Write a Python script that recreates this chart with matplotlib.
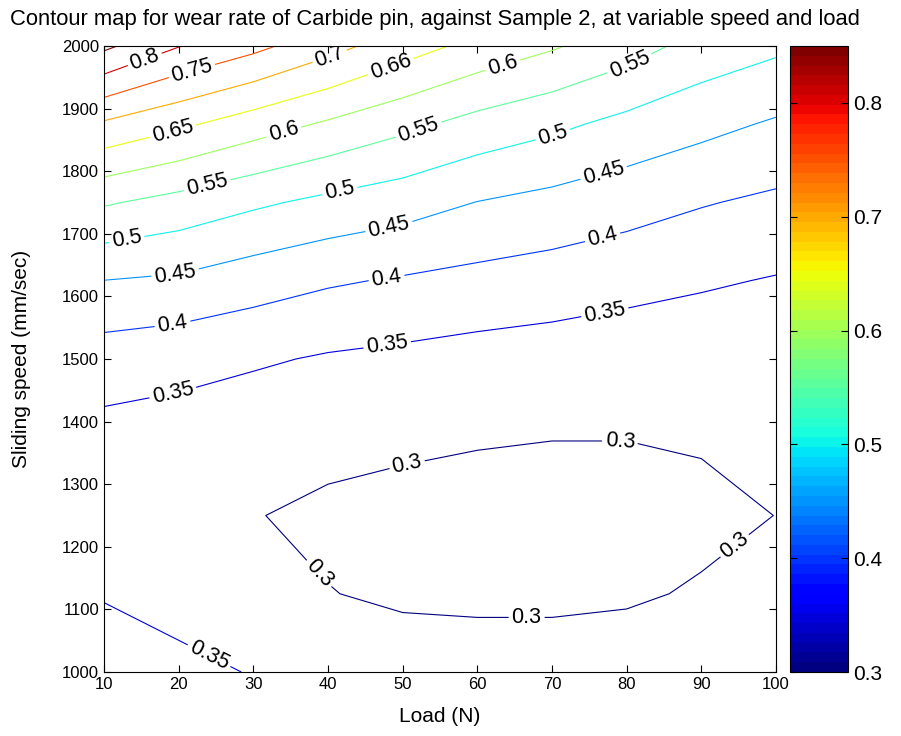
import numpy as np
import matplotlib
matplotlib.use('Agg')
import matplotlib.pyplot as plt
from matplotlib import colors, cm

plt.rcParams['font.family'] = ['Liberation Sans', 'DejaVu Sans']

# grid of the response surface (load in N, sliding speed in mm/sec)
loads = [10, 20, 30, 40, 50, 60, 70, 80, 90, 100]
speeds = [1000, 1125, 1250, 1375, 1500, 1625, 1750, 1875, 2000]

# wear rate, one row per speed, one column per load
wear = [
    [0.397, 0.365, 0.3471, 0.334, 0.325, 0.315, 0.315, 0.317, 0.318, 0.320],
    [0.344, 0.328, 0.3125, 0.3015, 0.2921, 0.2935, 0.2935, 0.2959, 0.3031, 0.306],
    [0.3258, 0.315, 0.302, 0.290, 0.291, 0.290, 0.290, 0.290, 0.292, 0.3003],
    [0.334, 0.329, 0.3145, 0.315, 0.305, 0.302, 0.3005, 0.3005, 0.303, 0.305],
    [0.3748, 0.3655, 0.3566, 0.345, 0.3384, 0.3311, 0.326, 0.320, 0.316, 0.3176],
    [0.4493, 0.442, 0.4223, 0.4058, 0.395, 0.3852, 0.3768, 0.3663, 0.3561, 0.3468],
    [0.5553, 0.5326, 0.5084, 0.4879, 0.4715, 0.4489, 0.4349, 0.4199, 0.4032, 0.3906],
    [0.6925, 0.6595, 0.6244, 0.5931, 0.5628, 0.5327, 0.5111, 0.4857, 0.4644, 0.4441],
    [0.8604, 0.802, 0.7638, 0.7178, 0.6731, 0.635, 0.6055, 0.5722, 0.5314, 0.5097],
]

levels = [0.30, 0.35, 0.40, 0.45, 0.50, 0.55, 0.60, 0.65, 0.70, 0.75, 0.80, 0.85]
cbar_ticks = [0.3, 0.4, 0.5, 0.6, 0.7, 0.8]

# where the inline labels sit (load, speed)
label_spots = [
    (15.9, 1964), (21.9, 1955), (40.3, 1981), (48.7, 1957), (19.2, 1863),
    (34.2, 1858), (63.7, 1958), (23.9, 1773), (52.3, 1861), (80.4, 1971),
    (13.1, 1685), (41.7, 1762), (70.0, 1861), (19.5, 1644), (48.2, 1709),
    (77.1, 1789), (19.2, 1554), (47.9, 1625), (76.8, 1693), (19.2, 1447),
    (48.0, 1516), (77.1, 1573), (50.6, 1331), (79.1, 1363), (38.4, 1153),
    (66.6, 1077), (94.9, 1195), (23.9, 1022),
]

X, Y = np.meshgrid(loads, speeds)
Z = np.array(wear)

fig = plt.figure(figsize=(9.01, 7.36), dpi=100)
ax = fig.add_axes([104 / 901, 64 / 736, 672 / 901, 626 / 736])
cax = fig.add_axes([790 / 901, 64 / 736, 58 / 901, 626 / 736])

jet = plt.get_cmap('jet', 64)
norm = colors.Normalize(vmin=0.3, vmax=0.85)

cs = ax.contour(X, Y, Z, levels=levels, cmap=jet, norm=norm, linewidths=0.8)
txts = ax.clabel(cs, manual=label_spots, inline=True, inline_spacing=3,
                 fontsize=15.5, colors='k', fmt=lambda v: f'{v:g}')
# one label in the original reads 0.66
for t in txts:
    px, py = t.get_position()
    if abs(px - 48.7) < 4 and abs(py - 1957) < 30:
        t.set_text('0.66')

ax.set_xlim(10, 100)
ax.set_ylim(1000, 2000)
ax.set_xticks(np.arange(10, 101, 10))
ax.set_yticks(np.arange(1000, 2001, 100))
ax.tick_params(direction='in', top=True, right=True, length=5, labelsize=12)
ax.set_xlabel('Load (N)', fontsize=15, labelpad=11)
ax.set_ylabel('Sliding speed (mm/sec)', fontsize=15, labelpad=22)
fig.text((5 + 865) / 2 / 901, 1 - 20 / 736,
         'Contour map for wear rate of Carbide pin, against Sample 2, at variable speed and load',
         ha='center', va='center', fontsize=15.8)

cb = fig.colorbar(cm.ScalarMappable(norm=norm, cmap=jet), cax=cax, ticks=cbar_ticks)
cb.ax.set_yticklabels([f'{v:g}' for v in cbar_ticks])
cb.ax.tick_params(direction='in', left=True, right=True, length=5, labelsize=15)
cb.outline.set_linewidth(0.8)

fig.savefig('out.png', dpi=100)
